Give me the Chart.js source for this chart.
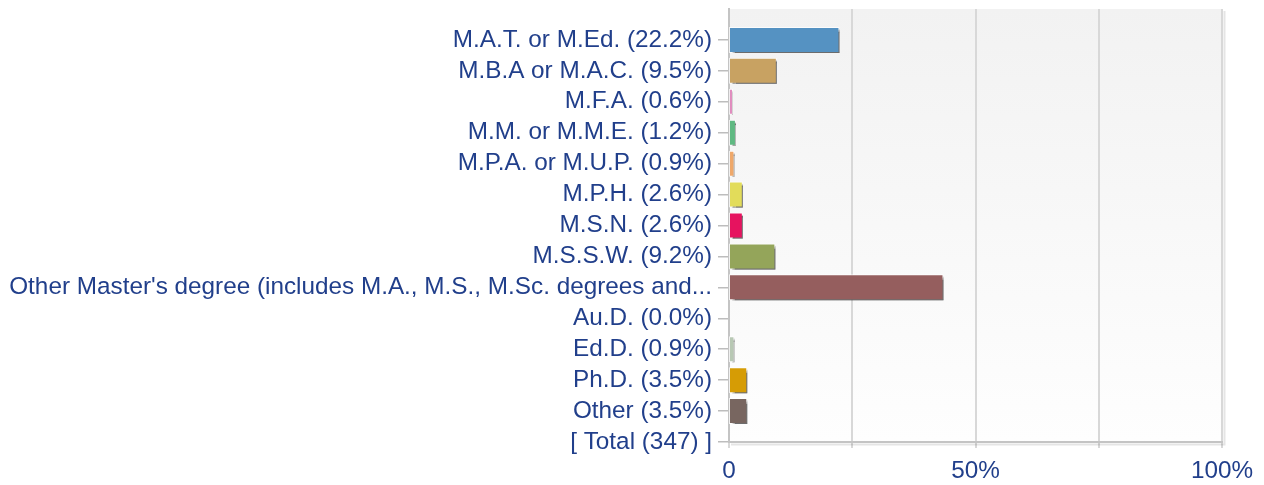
<!DOCTYPE html>
<html>
<head>
<meta charset="utf-8">
<script src="https://cdn.jsdelivr.net/npm/chart.js@4/dist/chart.umd.min.js"></script>
<style>
    html, body { margin: 0; padding: 0; background: #ffffff; }
    .chart-box { position: relative; width: 1264px; height: 485px; }
</style>
</head>
<body>
<div class="chart-box"><canvas id="degreesChart"></canvas></div>
<script>
// ==========================================================
// 1. DATA
// ==========================================================
const categories = [
    'M.A.T. or M.Ed. (22.2%)',
    'M.B.A or M.A.C. (9.5%)',
    'M.F.A. (0.6%)',
    'M.M. or M.M.E. (1.2%)',
    'M.P.A. or M.U.P. (0.9%)',
    'M.P.H. (2.6%)',
    'M.S.N. (2.6%)',
    'M.S.S.W. (9.2%)',
    "Other Master's degree (includes M.A., M.S., M.Sc. degrees and...",
    'Au.D. (0.0%)',
    'Ed.D. (0.9%)',
    'Ph.D. (3.5%)',
    'Other (3.5%)',
    '[ Total (347) ]'
];
const percents = [22.2, 9.5, 0.6, 1.2, 0.9, 2.6, 2.6, 9.2, 43.3, 0, 0.9, 3.5, 3.5, null];
const barColors = [
    '#5592c2', '#c8a262', '#e08cbe', '#5fb982', '#efa86a', '#e2dc5a', '#e6135f',
    '#94a55a', '#955e5e', '#cccccc', '#b8c8b4', '#d69c05', '#786660', '#cccccc'
];
const xTickValues = [0, 25, 50, 75, 100];
const xTickLabels = ['0', '', '50%', '', '100%'];

document.addEventListener('DOMContentLoaded', () => {

    const textBlue = '#213f8b';
    const fontLabel = { family: "'Liberation Sans', Arial, sans-serif", size: 24.3 };

    // blank slot on top so rows sit on grid edges like the original
    const rowLabels = [''].concat(categories);
    const rowValues = [null].concat(percents);
    const rowColors = ['transparent'].concat(barColors);

    // ==========================================================
    // 2. PLUGINS: plot background gradient, bar shadow, frame shadow
    // ==========================================================
    const plotBackground = {
        id: 'plotBackground',
        beforeDraw(chart) {
            const { ctx, chartArea: a } = chart;
            const grad = ctx.createLinearGradient(0, a.top, 0, a.bottom);
            grad.addColorStop(0, '#f2f2f2');
            grad.addColorStop(1, '#fefefe');
            ctx.save();
            ctx.fillStyle = grad;
            ctx.fillRect(a.left, a.top, a.right - a.left, a.bottom - a.top);
            ctx.restore();
        },
        afterDraw(chart) {
            const { ctx, chartArea: a } = chart;
            ctx.save();
            ctx.strokeStyle = 'rgba(0,0,0,0.10)';
            ctx.lineWidth = 2;
            ctx.beginPath();
            ctx.moveTo(a.right + 2.5, a.top + 2);
            ctx.lineTo(a.right + 2.5, a.bottom + 2.5);
            ctx.lineTo(a.left + 2, a.bottom + 2.5);
            ctx.stroke();
            ctx.restore();
        }
    };

    const barShadow = {
        id: 'barShadow',
        beforeDatasetDraw(chart) {
            const ctx = chart.ctx;
            ctx.save();
            ctx.shadowColor = 'rgba(0,0,0,0.55)';
            ctx.shadowOffsetX = 3;
            ctx.shadowOffsetY = 2.5;
            ctx.shadowBlur = 1;
        },
        afterDatasetDraw(chart) {
            chart.ctx.restore();
        }
    };

    // ==========================================================
    // 3. CHART
    // ==========================================================
    const ctxGrado = document.getElementById('degreesChart');
    new Chart(ctxGrado, {
        type: 'bar',
        data: {
            labels: rowLabels,
            datasets: [{
                data: rowValues,
                backgroundColor: rowColors,
                borderColor: 'rgba(255,255,255,0.75)',
                borderWidth: 1,
                borderSkipped: false,
                inflateAmount: (c) => (c.raw > 0 ? 1 : 0),
                barThickness: 24
            }]
        },
        plugins: [plotBackground, barShadow],
        options: {
            indexAxis: 'y',
            responsive: true,
            maintainAspectRatio: false,
            animation: false,
            layout: { padding: { top: 9, right: 42, left: 0, bottom: 0 } },
            plugins: {
                legend: { display: false },
                tooltip: { enabled: false }
            },
            scales: {
                x: {
                    min: 0,
                    max: 100,
                    afterBuildTicks: (scale) => {
                        scale.ticks = xTickValues.map(v => ({ value: v }));
                    },
                    afterFit: (scale) => {
                        scale.height = 43;
                        scale.paddingLeft = 0;
                        scale.paddingRight = 0;
                    },
                    grid: {
                        color: '#d8d8d8',
                        lineWidth: 2,
                        tickLength: 6,
                        tickColor: '#d8d8d8'
                    },
                    border: { color: '#c4c4c4', width: 2 },
                    ticks: {
                        color: textBlue,
                        font: fontLabel,
                        padding: 9,
                        maxRotation: 0,
                        callback: (value) => xTickLabels[xTickValues.indexOf(value)]
                    }
                },
                y: {
                    offset: false,
                    afterFit: (scale) => {
                        scale.width = 729;
                        scale.paddingTop = 0;
                        scale.paddingBottom = 0;
                    },
                    grid: {
                        offset: false,
                        drawOnChartArea: false,
                        tickLength: 11,
                        lineWidth: 1.5,
                        color: '#bdbdbd',
                        tickColor: (c) => c.index === 0 ? 'rgba(0,0,0,0)' : '#bdbdbd'
                    },
                    border: { color: '#c4c4c4', width: 2 },
                    ticks: {
                        autoSkip: false,
                        color: textBlue,
                        font: fontLabel,
                        padding: 6
                    }
                }
            }
        }
    });
});
</script>
</body>
</html>
